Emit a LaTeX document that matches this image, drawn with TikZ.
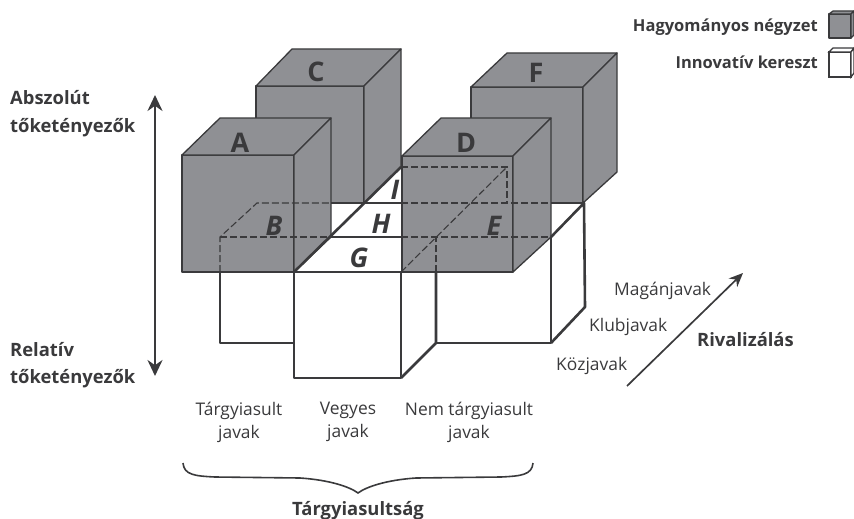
\documentclass[tikz,border=0pt]{standalone}
\usepackage{fontspec}
\setmainfont{Open Sans}
\usepackage{xcolor}
\usetikzlibrary{arrows.meta}
\definecolor{cubegrey}{HTML}{8F9094}
\definecolor{inkgrey}{HTML}{3A3A3C}
\tikzset{
  greycube/.style={fill=cubegrey, draw=inkgrey, line width=1.3pt, line join=round},
  whitebox/.style={fill=white, draw=inkgrey, line width=2.6pt, line join=round},
  dashline/.style={draw=inkgrey, line width=1.1pt, dash pattern=on 7pt off 3pt},
  thickline/.style={draw=inkgrey, line width=2.6pt, line join=round},
  cubelabel/.style={inner sep=0pt, text=inkgrey, font=\fontsize{27}{30}\selectfont\bfseries},
  boxlabel/.style={inner sep=0pt, text=inkgrey, font=\fontsize{27}{30}\selectfont\bfseries\itshape},
  axislabel/.style={inner sep=0pt, anchor=base west, text=inkgrey, font=\fontsize{18.4}{28}\selectfont\bfseries},
  legendlabel/.style={inner sep=0pt, anchor=base east, text=inkgrey, font=\fontsize{16.5}{20}\selectfont\bfseries},
  goodlabel/.style={inner sep=0pt, anchor=base west, text=inkgrey, font=\fontsize{17.4}{20}\selectfont},
  kindlabel/.style={inner sep=0pt, align=center, text=inkgrey, font=\fontsize{17.4}{23}\selectfont}
}
\begin{document}
\begin{tikzpicture}[x=1pt, y=-1pt]
\useasboundingbox (0,0) rectangle (854,519);
%
% back cubes
\draw[greycube] (256,86) rectangle (364,204);
\draw[greycube] (256,86) -- (292,49) -- (401,49) -- (364,86) -- cycle;
\draw[greycube] (364,86) -- (401,49) -- (401,167) -- (364,204) -- cycle;
\draw[greycube] (471,87) rectangle (583,203);
\draw[greycube] (471,87) -- (507,53) -- (617,53) -- (583,87) -- cycle;
\draw[greycube] (583,87) -- (617,53) -- (617,172) -- (583,203) -- cycle;
%
% white floor
\fill[white] (294,272) -- (364,203) -- (401,167) -- (401,272) -- cycle;
\fill[white] (331,203) rectangle (364,237);
%
% front cubes
\draw[greycube] (182,155) rectangle (294,272);
\draw[greycube] (182,155) -- (220,118) -- (331,118) -- (294,155) -- cycle;
\draw[greycube] (294,155) -- (331,118) -- (331,237) -- (294,272) -- cycle;
\draw[greycube] (402,156) rectangle (513,272);
\draw[greycube] (402,156) -- (441,118) -- (551,118) -- (513,156) -- cycle;
\draw[greycube] (513,156) -- (551,118) -- (551,237) -- (513,272) -- cycle;
%
% boxes under the cubes
\draw[thickline] (220,272) -- (220,343) -- (294,343);
\draw[whitebox] (294,272) rectangle (401,378);
\draw[whitebox] (401,378) -- (436,343) -- (436,272);
\draw[thickline] (436,343) -- (551,343) -- (551,237);
\draw[thickline] (551,343) -- (585,307) -- (584,203) -- (551,237);
%
% floor lines
\draw[thickline] (294,272) -- (401,167);
\draw[thickline] (331,237) -- (401,237);
\draw[thickline] (331,203) -- (401,203);
%
% dashed edges
\draw[dashline] (220,272) -- (220,237) -- (257,203) -- (331,203);
\draw[dashline] (220,237) -- (331,237);
\draw[dashline] (401,237) -- (551,237);
\draw[dashline] (401,203) -- (584,203);
\draw[dashline] (401,167) -- (507,167) -- (507,203);
\draw[dashline] (401,272) -- (507,167);
\draw[dashline] (436,272) -- (436,237);
%
% letters
\node[cubelabel] (lblA) at (240,143) {A};
\node[cubelabel] (lblC) at (316,72) {C};
\node[cubelabel] (lblD) at (466,143) {D};
\node[cubelabel] (lblF) at (536,73) {F};
\node[boxlabel] (lblB) at (274,226) {B};
\node[boxlabel] (lblE) at (494,226) {E};
\node[boxlabel] (lblG) at (359,258) {G};
\node[boxlabel] (lblH) at (381,224) {H};
\node[boxlabel] (lblI) at (395,190) {I};
%
% left axis
\coordinate (abstop) at (155,95);
\coordinate (absbot) at (155,376);
\draw[{Stealth[length=16pt,width=15pt]}-{Stealth[length=16pt,width=15pt]}, draw=inkgrey, fill=inkgrey, line width=2.4pt] (abstop) -- (absbot);
\node[axislabel] (abs1) at (10,104) {Abszolút};
\node[axislabel] (abs2) at (10,132) {tőketényezők};
\node[axislabel] (rel1) at (10,356) {Relatív};
\node[axislabel] (rel2) at (10,383) {tőketényezők};
%
% rivalry axis
\coordinate (rivstart) at (627,386);
\coordinate (rivend) at (743,273);
\draw[-{Stealth[length=14pt,width=12pt]}, draw=inkgrey, fill=inkgrey, line width=1.7pt] (rivstart) -- (rivend);
\node[goodlabel] (magan) at (614,295) {Magánjavak};
\node[goodlabel] (klub) at (589,331) {Klubjavak};
\node[goodlabel] (koz) at (556,370) {Közjavak};
\node[axislabel] (riv) at (697,346) {Rivalizálás};
%
% bottom labels
\node[kindlabel] (kind1) at (239,422) {Tárgyiasult\\javak};
\node[kindlabel] (kind2) at (348,422) {Vegyes\\javak};
\node[kindlabel] (kind3) at (469,422) {Nem tárgyiasult\\javak};
\coordinate (brl) at (183,463);
\coordinate (brm) at (358,493);
\coordinate (brr) at (533,463);
\draw[draw=inkgrey, line width=1.6pt] (brl) .. controls (184,475) and (195,476) .. (215,477)
  -- (300,478) .. controls (330,480) and (350,487) .. (brm)
  .. controls (366,487) and (386,480) .. (416,478)
  -- (501,477) .. controls (521,476) and (532,475) .. (brr);
\node[axislabel, anchor=base] (targy) at (358,515) {Tárgyiasultság};
%
% legend
\node[legendlabel] (leg1) at (818,32) {Hagyományos négyzet};
\node[legendlabel] (leg2) at (818,69) {Innovatív kereszt};
\draw[greycube] (829,14) rectangle (851,38);
\draw[greycube] (829,14) -- (833,11) -- (854,11) -- (851,14) -- cycle;
\draw[greycube] (851,14) -- (854,11) -- (854,35) -- (851,38) -- cycle;
\draw[inkgrey, line width=1.3pt, fill=white] (829,52) rectangle (851,77);
\draw[inkgrey, line width=1.3pt, fill=white] (829,52) -- (833,48) -- (854,48) -- (851,52) -- cycle;
\draw[inkgrey, line width=1.3pt, fill=white] (851,52) -- (854,48) -- (854,73) -- (851,77) -- cycle;
\end{tikzpicture}
\end{document}
